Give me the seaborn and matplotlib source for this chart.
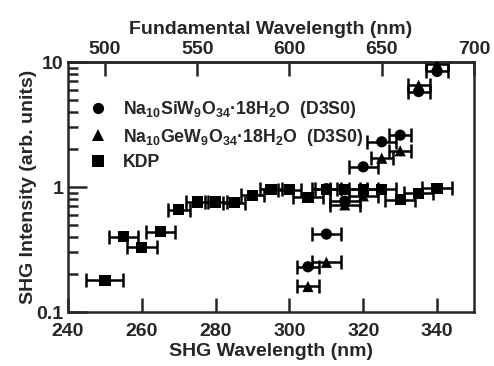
import matplotlib
matplotlib.use("Agg")
import matplotlib.pyplot as plt
import numpy as np
import pandas as pd
import seaborn as sns
from matplotlib.ticker import FixedLocator, FuncFormatter, LogLocator, NullFormatter

# SHG data
kdp_x = [250, 255, 260, 265, 270, 275, 280, 285, 290, 295, 300, 305, 310, 315, 320, 325, 330, 335, 340]
kdp_y = [0.18, 0.40, 0.33, 0.44, 0.66, 0.76, 0.76, 0.75, 0.86, 0.96, 0.95, 0.83, 0.96, 0.96, 0.96, 0.96, 0.79, 0.89, 0.98]
kdp_err = [5, 4, 4, 4, 3, 3, 3, 3, 3, 3, 3, 4, 4, 4, 4, 4, 4, 4, 4]

si_x = [305, 310, 310, 315, 320, 325, 330, 335, 340]
si_y = [0.23, 0.42, 0.97, 0.77, 1.45, 2.3, 2.6, 5.8, 8.4]
si_err = [3, 4, 3, 4, 4, 4, 3, 3, 3]

ge_x = [305, 310, 315, 320, 325, 330, 335, 340]
ge_y = [0.16, 0.25, 0.72, 0.85, 1.7, 1.95, 6.5, 9.6]
ge_err = [3, 4, 4, 4, 3, 3, 3, 3]

labels = {
    "si": "Na$_{10}$SiW$_9$O$_{34}$\u00b718H$_2$O  (D3S0)",
    "ge": "Na$_{10}$GeW$_9$O$_{34}$\u00b718H$_2$O  (D3S0)",
    "kdp": "KDP",
}
markers = {"si": "o", "ge": "^", "kdp": "s"}

df = pd.concat([
    pd.DataFrame({"wl": ge_x, "inten": ge_y, "err": ge_err, "sample": "ge"}),
    pd.DataFrame({"wl": si_x, "inten": si_y, "err": si_err, "sample": "si"}),
    pd.DataFrame({"wl": kdp_x, "inten": kdp_y, "err": kdp_err, "sample": "kdp"}),
], ignore_index=True)

sns.set_style("ticks")
plt.rcParams["font.family"] = ["Liberation Sans", "DejaVu Sans"]
plt.rcParams["font.weight"] = "bold"
plt.rcParams["mathtext.fontset"] = "custom"
plt.rcParams["mathtext.bf"] = "Liberation Sans:bold"
plt.rcParams["mathtext.rm"] = "Liberation Sans:bold"
plt.rcParams["mathtext.default"] = "bf"

FS = 14

fig = plt.figure(figsize=(4.94, 3.66), dpi=100)
ax = fig.add_axes([0.1377, 0.1475, 0.8218, 0.6831])

# horizontal error bars first, markers on top
for key, sub in df.groupby("sample"):
    ax.errorbar(sub["wl"], sub["inten"], xerr=sub["err"], fmt="none",
                ecolor="black", elinewidth=1.8, capsize=5, capthick=1.8, zorder=2)

sns.scatterplot(data=df, x="wl", y="inten", style="sample", markers=markers,
                style_order=["si", "ge", "kdp"], color="black", s=65,
                edgecolor="black", linewidth=0, ax=ax, zorder=3)

ax.set_yscale("log")
ax.set_xlim(240, 350)
ax.set_ylim(0.1, 10)

ax.xaxis.set_major_locator(FixedLocator([240, 260, 280, 300, 320, 340]))
ax.yaxis.set_major_locator(FixedLocator([0.1, 1, 10]))
ax.yaxis.set_minor_locator(LogLocator(base=10, subs=np.arange(2, 10)))
ax.yaxis.set_major_formatter(FuncFormatter(lambda v, p: f"{v:g}"))
ax.yaxis.set_minor_formatter(NullFormatter())

ax.tick_params(axis="both", which="major", direction="in", length=10, width=1.8,
               labelsize=FS, pad=3)
ax.tick_params(axis="x", which="major", pad=8)
ax.tick_params(axis="y", which="major", length=14)
ax.tick_params(axis="y", which="minor", direction="in", length=7, width=1.8)
for lab in ax.get_xticklabels() + ax.get_yticklabels():
    lab.set_fontweight("bold")
for sp in ax.spines.values():
    sp.set_linewidth(1.8)

ax.set_xlabel("SHG Wavelength (nm)", fontsize=FS, fontweight="bold", labelpad=2)
ax.set_ylabel("SHG Intensity (arb. units)", fontsize=FS, fontweight="bold", labelpad=0)

top = ax.secondary_xaxis("top", functions=(lambda x: 2 * x, lambda x: x / 2))
top.xaxis.set_major_locator(FixedLocator([500, 550, 600, 650, 700]))
top.tick_params(direction="in", length=10, width=1.8, labelsize=FS, pad=3)
for lab in top.get_xticklabels():
    lab.set_fontweight("bold")
top.set_xlabel("Fundamental Wavelength (nm)", fontsize=FS, fontweight="bold", labelpad=5)
top.spines["top"].set_linewidth(1.8)

handles, names = ax.get_legend_handles_labels()
hmap = dict(zip(names, handles))
ax.legend([hmap["si"], hmap["ge"], hmap["kdp"]],
          [labels["si"], labels["ge"], labels["kdp"]],
          loc="upper left", bbox_to_anchor=(0.0, 0.9), frameon=False,
          handletextpad=0.4, labelspacing=0.35, borderaxespad=0.3,
          prop={"weight": "bold", "size": 12.8})

fig.savefig("out.png", dpi=100)
